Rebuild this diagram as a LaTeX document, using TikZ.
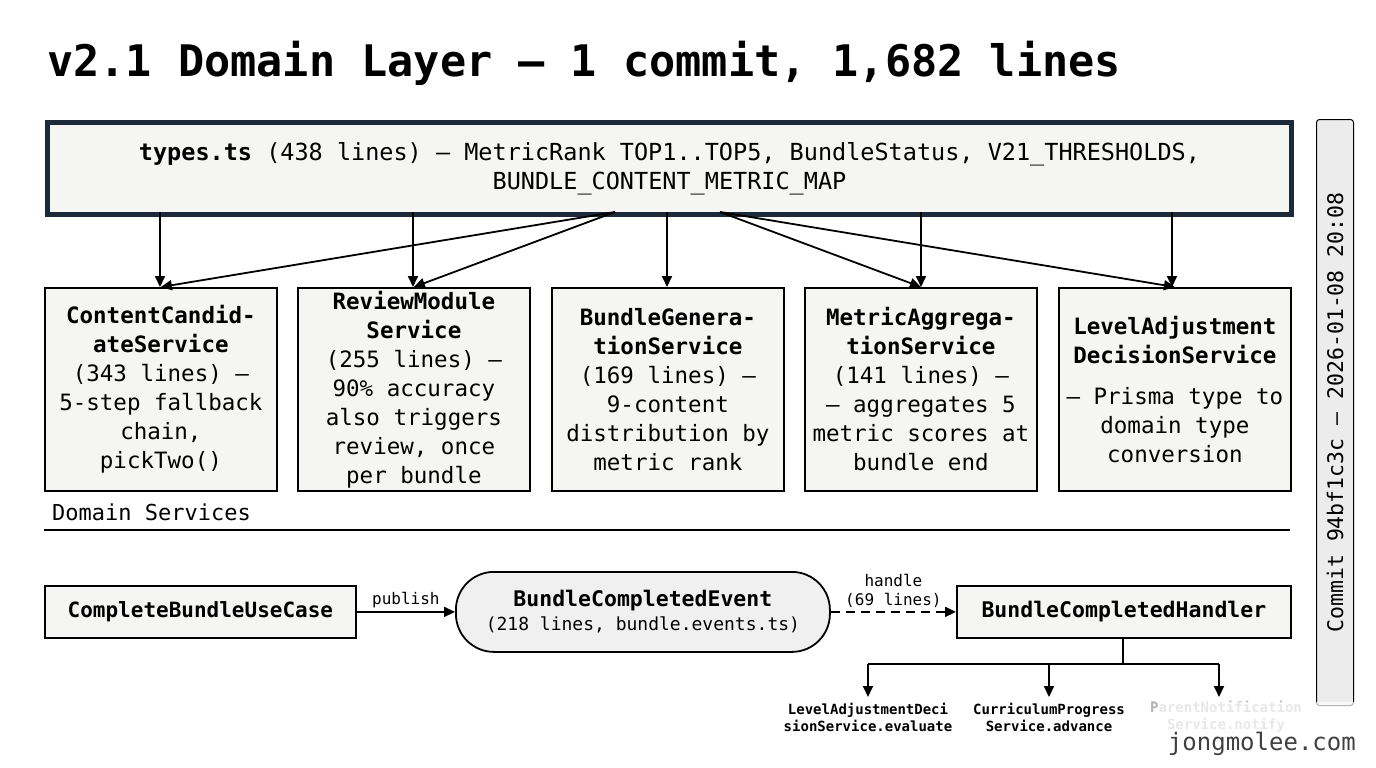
\documentclass[tikz,border=0pt]{standalone}
\usepackage{fontspec}
\setmonofont{DejaVu Sans Mono}
\usetikzlibrary{arrows.meta}
\definecolor{navy}{HTML}{1C2A3A}
\definecolor{boxfill}{HTML}{F5F5F3}
\begin{document}
\begin{tikzpicture}[x=1pt,y=-1pt,font=\ttfamily,
 svc/.style={draw,line width=1.8pt,fill=boxfill,minimum width=232pt,minimum height=203pt,align=center,font=\ttfamily\fontsize{22.5}{29}\selectfont,anchor=north west,inner sep=2pt},
 arr/.style={-{Triangle[length=11pt,width=10pt]},line width=1.8pt},
 small/.style={font=\ttfamily\bfseries\fontsize{14}{17}\selectfont,align=center}]
\useasboundingbox (0,0) rectangle (1376,768);
\fill[white] (0,0) rectangle (1376,768);
\node[anchor=base west,font=\ttfamily\bfseries\fontsize{43.5}{43.5}\selectfont,inner sep=0] (title) at (47,77) {v2.1 Domain Layer – 1 commit, 1,682 lines};
\node[draw=navy,line width=5pt,fill=boxfill,minimum width=1244pt,minimum height=92pt,anchor=north west,align=center,font=\ttfamily\fontsize{23.5}{29}\selectfont] (types) at (45,120) {\textbf{types.ts} (438 lines) – MetricRank TOP1..TOP5, BundleStatus, V21\_THRESHOLDS,\\BUNDLE\_CONTENT\_METRIC\_MAP};
\node[svc] (s1) at (44,287) {\textbf{ContentCandid-}\\\textbf{ateService}\\(343 lines) –\\5-step fallback\\chain,\\pickTwo()};
\node[svc] (s2) at (297,287) {\textbf{ReviewModule}\\\textbf{Service}\\(255 lines) –\\90\% accuracy\\also triggers\\review, once\\per bundle};
\node[svc] (s3) at (551,287) {\textbf{BundleGenera-}\\\textbf{tionService}\\(169 lines) –\\9-content\\distribution by\\metric rank};
\node[svc] (s4) at (804,287) {\textbf{MetricAggrega-}\\\textbf{tionService}\\(141 lines) –\\– aggregates 5\\metric scores at\\bundle end};
\node[svc] (s5) at (1058,287) {\textbf{LevelAdjustment}\\\textbf{DecisionService}\\[12pt]– Prisma type to\\domain type\\conversion};
\foreach \x/\n in {160/s1,413/s2,667/s3,921/s4,1172/s5}{
 \draw[arr] (\x,212) -- (\n.north -| \x,0);}
\coordinate (dl) at (615,212);
\coordinate (dr) at (720,212);
\draw[arr] (dl) -- (s1.north);
\draw[arr] (dl) -- (s2.north);
\draw[arr] (dr) -- (s4.north);
\draw[arr] (dr) -- (s5.north);
\node[anchor=base west,font=\ttfamily\fontsize{22}{22}\selectfont,inner sep=0] (ds) at (52,520) {Domain Services};
\draw[line width=1.8pt] (44,530) -- (1290,530);
\node[draw,line width=1.8pt,fill=boxfill,minimum width=311pt,minimum height=52pt,anchor=north west,font=\ttfamily\bfseries\fontsize{21}{24}\selectfont] (uc) at (44,585) {CompleteBundleUseCase};
\node[draw,line width=1.8pt,fill=gray!12,rounded corners=38pt,minimum width=374pt,minimum height=80pt,anchor=north west,align=center,font=\ttfamily\fontsize{18}{24}\selectfont] (ev) at (455,571) {{\bfseries\fontsize{21.5}{24}\selectfont BundleCompletedEvent}\\(218 lines, bundle.events.ts)};
\node[draw,line width=1.8pt,fill=boxfill,minimum width=334pt,minimum height=52pt,anchor=north west,font=\ttfamily\bfseries\fontsize{21.5}{24}\selectfont] (h) at (956,585) {BundleCompletedHandler};
\draw[arr] (uc) -- node[above,font=\ttfamily\fontsize{16}{16}\selectfont]{publish} (ev);
\draw[arr,dashed,dash pattern=on 9pt off 6pt] (ev) -- node[above,align=center,font=\ttfamily\fontsize{16}{19}\selectfont]{handle\\(69 lines)} (h);
\coordinate (j) at (1123,664);
\node[small] (t1) at (868,717) {LevelAdjustmentDeci\\sionService.evaluate};
\node[small] (t2) at (1049,717) {CurriculumProgress\\Service.advance};
\node[small,text=gray!60] (t3) at (1226,717) {\textcolor{black}{P}arentNotification\\Service.notify};
\draw[line width=1.8pt] (h.south -| j) -- (j);
\draw[line width=1.8pt] (868,664) -- (1219,664);
\draw[arr] (868,664) -- (868,697);
\draw[arr] (1049,664) -- (1049,697);
\draw[arr] (1219,664) -- (1219,697);
\node[draw,line width=1pt,fill=gray!15,rounded corners=3pt,minimum width=37pt,minimum height=586pt,anchor=north west] (cb) at (1316,119) {};
\node[rotate=90,font=\ttfamily\fontsize{21.5}{21.5}\selectfont] (ct) at (cb.center) {Commit 94bf1c3c – 2026-01-08 20:08};
\fill[white,opacity=0.7] (1150,702) rectangle (1376,768);
\node[anchor=base east,font=\ttfamily\fontsize{24}{24}\selectfont,text=black!75,inner sep=0] (wm) at (1356,750) {jongmolee.com};
\end{tikzpicture}
\end{document}
